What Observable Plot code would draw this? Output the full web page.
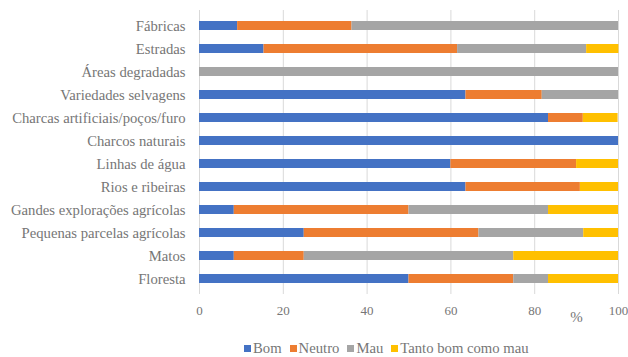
<!DOCTYPE html>
<html>
<head>
<meta charset="utf-8">
<script src="https://cdn.jsdelivr.net/npm/d3@7"></script>
<script src="https://cdn.jsdelivr.net/npm/@observablehq/plot@0.6"></script>
<style>
  html, body { margin: 0; padding: 0; background: #fff; }
  #wrap { position: relative; width: 628px; height: 357px; overflow: hidden; }
  #wrap svg, #wrap svg text { font-family: 'Liberation Serif', serif !important; }
  #wrap svg g[aria-label^="x-axis"] text { font-size: 13px; }
  #legend { position: absolute; left: 0; top: 340px; width: 628px; height: 17px; display: flex; gap: 8px;
    font-family: 'Liberation Serif', serif; font-size: 14.7px; color: #767676; line-height: 17px;
    padding-left: 244px; box-sizing: border-box; justify-content: flex-start; }
  #legend span.item { display: inline-flex; align-items: center; gap: 2px; }
  #legend span.sw { display: inline-block; width: 7px; height: 7px; }
</style>
</head>
<body>
<div id="wrap"></div>
<script>
const categories = ["Fábricas", "Estradas", "Áreas degradadas", "Variedades selvagens",
  "Charcas artificiais/poços/furo", "Charcos naturais", "Linhas de água", "Rios e ribeiras",
  "Gandes explorações agrícolas", "Pequenas parcelas agrícolas", "Matos", "Floresta"];
const series = ["Bom", "Neutro", "Mau", "Tanto bom como mau"];
const colors = ["#4472C4", "#ED7D31", "#A5A5A5", "#FFC000"];
const bom    = [9.1, 15.4, 0, 63.6, 83.3, 100, 60, 63.6, 8.3, 25, 8.3, 50];
const neutro = [27.3, 46.2, 0, 18.2, 8.3, 0, 30, 27.3, 41.7, 41.7, 16.7, 25];
const mau    = [63.6, 30.8, 100, 18.2, 0, 0, 0, 0, 33.3, 25, 50, 8.3];
const tanto  = [0, 7.7, 0, 0, 8.3, 0, 10, 9.1, 16.7, 8.3, 25, 16.7];
const xTicks = [0, 20, 40, 60, 80, 100];
const unitLabel = "%";
const unitAt = 90;

const valuesBySeries = [bom, neutro, mau, tanto];
const data = [];
categories.forEach((c, i) => {
  series.forEach((s, j) => data.push({cat: c, serie: s, value: valuesBySeries[j][i]}));
});

const chart = Plot.plot({
  width: 628,
  height: 340,
  marginLeft: 199,
  marginRight: 10,
  marginTop: 10,
  marginBottom: 46,
  style: "font-family: 'Liberation Serif', serif; font-size: 14.7px; color: #767676; background: #fff;",
  x: {domain: [0, 100], ticks: xTicks, tickSize: 0, tickPadding: 11, label: null},
  y: {domain: categories, paddingInner: 0.6, paddingOuter: 0.3, tickSize: 0, tickPadding: 14, label: null},
  color: {domain: series, range: colors},
  marks: [
    Plot.gridX(xTicks, {stroke: "#d9d9d9", strokeOpacity: 1}),
    Plot.barX(data, Plot.stackX({x: "value", y: "cat", fill: "serie", order: series})),
    Plot.text([unitLabel], {x: [unitAt], frameAnchor: "bottom", dy: 27, text: d => d, fill: "#767676", fontSize: 15})
  ]
});
document.getElementById("wrap").appendChild(chart);

const legend = document.createElement("div");
legend.id = "legend";
series.forEach((s, j) => {
  const it = document.createElement("span");
  it.className = "item";
  const sw = document.createElement("span");
  sw.className = "sw";
  sw.style.background = colors[j];
  it.appendChild(sw);
  it.appendChild(document.createTextNode(s));
  legend.appendChild(it);
});
document.getElementById("wrap").appendChild(legend);
</script>
</body>
</html>
